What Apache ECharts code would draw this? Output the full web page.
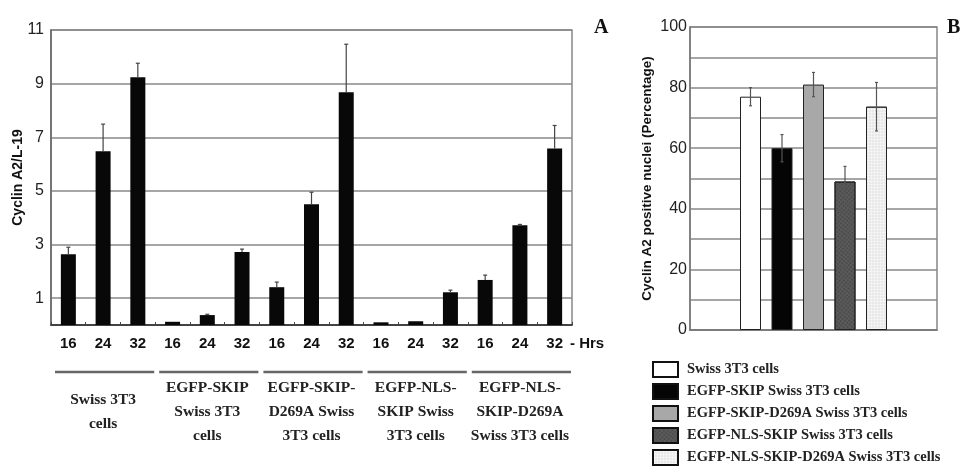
<!DOCTYPE html>
<html lang="en">
  <head>
    <meta charset="UTF-8" />
    <title>Cyclin A2 levels</title>
    <style>
      * { margin: 0; padding: 0; box-sizing: border-box; }
      #main { width: 970px; height: 467px; background: #fff; }
    </style>
  </head>
  <body>
    <div id="main"></div>
    <script src="https://cdn.jsdelivr.net/npm/echarts@6/dist/echarts.min.js"></script>
    <script>
      const chart = echarts.init(document.getElementById("main"));

      // panel A: time points (hrs) per group
      const hours = ["16", "24", "32", "16", "24", "32", "16", "24", "32", "16", "24", "32", "16", "24", "32"];
      const groupsA = [
        "Swiss 3T3\ncells",
        "EGFP-SKIP\nSwiss 3T3\ncells",
        "EGFP-SKIP-\nD269A Swiss\n3T3 cells",
        "EGFP-NLS-\nSKIP Swiss\n3T3 cells",
        "EGFP-NLS-\nSKIP-D269A\nSwiss 3T3 cells",
      ];
      const ratioA = [2.64, 6.48, 9.24, 0.12, 0.37, 2.72, 1.41, 4.5, 8.68, 0.1, 0.14, 1.22, 1.68, 3.72, 6.58];
      const errA = [0.26, 1.01, 0.52, 0, 0.03, 0.11, 0.19, 0.45, 1.79, 0, 0, 0.08, 0.18, 0.03, 0.86];
      const yTicksA = [1, 3, 5, 7, 9, 11];

      // panel B: percentage of positive nuclei
      const namesB = [
        "Swiss 3T3 cells",
        "EGFP-SKIP Swiss 3T3 cells",
        "EGFP-SKIP-D269A Swiss 3T3 cells",
        "EGFP-NLS-SKIP Swiss 3T3 cells",
        "EGFP-NLS-SKIP-D269A Swiss 3T3 cells",
      ];
      const pctB = [77, 60, 81, 49, 73.7];
      const errB = [3, 4.5, 4, 5, 8];

      const colorsB = ["#ffffff", "#050505", "#a8a8a8", "#5c5c5c", "#e4e4e4"];
      const decalsB = [
        null,
        null,
        null,
        { symbol: "rect", symbolSize: 0.7, dashArrayX: [2, 1], dashArrayY: [2, 1], rotation: 0.7, color: "rgba(0,0,0,0.35)" },
        { symbol: "circle", symbolSize: 0.8, dashArrayX: [3, 0], dashArrayY: [3, 0], color: "rgba(255,255,255,0.7)" },
      ];

      const sans = "Liberation Sans";
      const serif = "Liberation Serif";
      const BAR_B = 21;

      const errColor = "#444";

      option = {
        animation: false,
        backgroundColor: "#fff",
        title: [
          { text: "A", left: 589, top: 13, textStyle: { fontFamily: serif, fontWeight: "bold", fontSize: 20, color: "#111" } },
          { text: "B", left: 942, top: 13, textStyle: { fontFamily: serif, fontWeight: "bold", fontSize: 20, color: "#111" } },
        ],
        legend: {
          data: namesB,
          orient: "vertical",
          left: 652,
          top: 361,
          height: 200,
          padding: 0,
          itemWidth: 25,
          itemHeight: 15,
          itemGap: 5,
          icon: "rect",
          itemStyle: { borderColor: "#111", borderWidth: 2 },
          textStyle: { fontFamily: serif, fontWeight: "bold", fontSize: 14.5, color: "#222", padding: [0, 0, 0, 4] },
          selectedMode: false,
        },
        grid: [
          { left: 51, top: 30, width: 521, height: 295, show: true, borderColor: "#888", borderWidth: 1.5 },
          { left: 690, top: 27, width: 247, height: 303, show: true, borderColor: "#888", borderWidth: 1.5 },
        ],
        xAxis: [
          {
            gridIndex: 0,
            type: "category",
            data: hours,
            axisLine: { lineStyle: { color: "#222", width: 1.5 } },
            axisTick: { show: true, inside: true, length: 3, lineStyle: { color: "#444" } },
            axisLabel: { fontFamily: sans, fontWeight: "bold", fontSize: 15, color: "#111", margin: 11 },
            name: "- Hrs",
            nameLocation: "end",
            nameGap: -2,
            nameTextStyle: { fontFamily: sans, fontWeight: "bold", fontSize: 15, color: "#111", verticalAlign: "top", padding: [11, 0, 0, 0] },
          },
          {
            gridIndex: 0,
            type: "category",
            data: groupsA,
            position: "bottom",
            offset: 81,
            axisLine: { show: false },
            axisTick: { show: false },
            axisLabel: { fontFamily: serif, fontWeight: "bold", fontSize: 15.5, color: "#222", lineHeight: 24, verticalAlign: "middle", margin: 6, interval: 0 },
          },
          {
            gridIndex: 1,
            type: "category",
            data: [""],
            axisLine: { lineStyle: { color: "#777", width: 1.5 } },
            axisTick: { show: false },
            axisLabel: { show: false },
          },
        ],
        yAxis: [
          {
            gridIndex: 0,
            type: "value",
            min: 0,
            max: 11,
            axisLine: { show: true, lineStyle: { color: "#666", width: 1.5 } },
            axisTick: { show: false, customValues: yTicksA },
            axisLabel: { customValues: yTicksA, fontFamily: sans, fontSize: 16, color: "#222", margin: 7 },
            splitLine: { show: true, lineStyle: { color: "#888", width: 1.5 } },
            name: "Cyclin A2/L-19",
            nameLocation: "middle",
            nameGap: 26,
            nameMoveOverlap: false,
            nameTextStyle: { fontFamily: sans, fontWeight: "bold", fontSize: 14, color: "#111" },
          },
          {
            gridIndex: 1,
            type: "value",
            min: 0,
            max: 100,
            interval: 10,
            axisLine: { show: true, lineStyle: { color: "#777", width: 1.5 } },
            axisTick: { show: false },
            axisLabel: {
              fontFamily: sans,
              fontSize: 16,
              color: "#222",
              margin: 3,
              formatter: (v) => (v % 20 === 0 ? String(v) : ""),
            },
            splitLine: { show: true, lineStyle: { color: "#888", width: 1.5 } },
            name: "Cyclin A2 positive nuclei (Percentage)",
            nameLocation: "middle",
            nameGap: 36,
            nameMoveOverlap: false,
            nameTextStyle: { fontFamily: sans, fontWeight: "bold", fontSize: 13.5, color: "#111" },
          },
        ],
        series: [
          {
            type: "bar",
            xAxisIndex: 0,
            yAxisIndex: 0,
            data: ratioA,
            barWidth: 15,
            itemStyle: { color: "#080808" },
            z: 2,
          },
          {
            // upper error bars, panel A
            type: "custom",
            xAxisIndex: 0,
            yAxisIndex: 0,
            z: 3,
            data: ratioA.map((v, i) => [i, v, errA[i]]),
            renderItem(params, api) {
              const i = api.value(0), v = api.value(1), e = api.value(2);
              if (!e) return null;
              const lo = api.coord([i, v]);
              const hi = api.coord([i, v + e]);
              const st = { stroke: errColor, lineWidth: 1.2 };
              return {
                type: "group",
                children: [
                  { type: "line", shape: { x1: lo[0], y1: lo[1], x2: hi[0], y2: hi[1] }, style: st },
                  { type: "line", shape: { x1: hi[0] - 2, y1: hi[1], x2: hi[0] + 2, y2: hi[1] }, style: st },
                ],
              };
            },
          },
          {
            // group underlines, panel A
            type: "custom",
            xAxisIndex: 1,
            yAxisIndex: 0,
            clip: false,
            data: groupsA.map((g, i) => [i, 0]),
            renderItem(params, api) {
              const c = api.coord([api.value(0), 0]);
              const w = api.size([1, 0])[0];
              return {
                type: "line",
                shape: { x1: c[0] - w / 2 + 4, y1: c[1] + 47, x2: c[0] + w / 2 - 1, y2: c[1] + 47 },
                style: { stroke: "#666", lineWidth: 2.5 },
              };
            },
          },
          ...namesB.map((name, k) => ({
            name: name,
            type: "bar",
            xAxisIndex: 2,
            yAxisIndex: 1,
            data: [pctB[k]],
            barWidth: BAR_B,
            barGap: "50%",
            itemStyle: Object.assign(
              { color: colorsB[k], borderColor: "#222", borderWidth: 1 },
              decalsB[k] ? { decal: decalsB[k] } : {}
            ),
            z: 2,
          })),
          {
            // symmetric error bars, panel B
            type: "custom",
            xAxisIndex: 2,
            yAxisIndex: 1,
            z: 3,
            data: pctB.map((v, k) => [0, v, errB[k], k]),
            renderItem(params, api) {
              const v = api.value(1), e = api.value(2), k = api.value(3);
              const off = (k - (pctB.length - 1) / 2) * BAR_B * 1.5;
              const lo = api.coord([0, v - e]);
              const hi = api.coord([0, v + e]);
              const x = lo[0] + off;
              const st = { stroke: "#555", lineWidth: 1.2 };
              return {
                type: "group",
                children: [
                  { type: "line", shape: { x1: x, y1: lo[1], x2: x, y2: hi[1] }, style: st },
                  { type: "line", shape: { x1: x - 1.5, y1: hi[1], x2: x + 1.5, y2: hi[1] }, style: st },
                  { type: "line", shape: { x1: x - 1.5, y1: lo[1], x2: x + 1.5, y2: lo[1] }, style: st },
                ],
              };
            },
          },
        ],
      };

      chart.setOption(option);
    </script>
  </body>
</html>
